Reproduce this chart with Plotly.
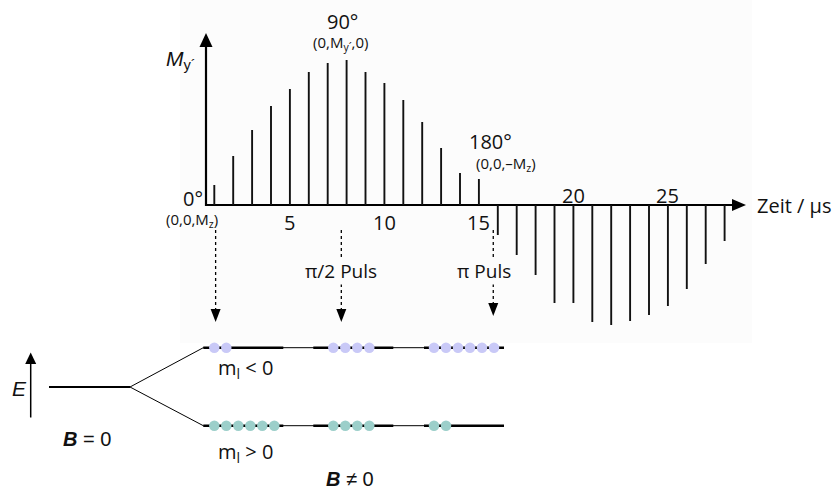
import plotly.graph_objects as go

# ---------------- data ----------------
times = list(range(1, 29))  # µs
signal = [20, 49, 75, 99, 116, 133, 142, 145, 133, 122, 105, 83, 57, 32, 26,
          -30, -50, -70, -98, -98, -117, -120, -116, -110, -101, -84, -59, -36]
tick_values = [5, 10, 15, 20, 25]
tick_side = ["below", "below", "below", "above", "above"]
pulse_times = [1.07, 7.72, 15.76]
pulse_labels = ["", "π/2 Puls", "π Puls"]
upper_counts = [2, 4, 6]   # m_l < 0
lower_counts = [6, 4, 2]   # m_l > 0

# ---------------- layout constants (pixels) ----------------
W, H = 833, 491
PX0, PXU = 195.4, 18.9      # pixel of t=0, pixels per µs
BASE_Y = 205                 # pixel of signal baseline
BG = "#fcfcfc"
FONT = "Open Sans"
ARIAL = "Liberation Sans"


def tx(t):
    return PX0 + PXU * t


fig = go.Figure()

# spikes
xs, ys = [], []
for t, v in zip(times, signal):
    xs += [t, t, None]
    ys += [0, v, None]
fig.add_trace(go.Scatter(x=xs, y=ys, mode="lines",
                         line=dict(color="#111111", width=1.9),
                         hoverinfo="skip", showlegend=False))

# energy level dots
GROUP_X0 = [214.3, 333.3, 434.0]
DOT_GAP = 12.0
UP_Y, LO_Y = 347.7, 425.7
for counts, yy, col in [(upper_counts, UP_Y, "#c9c9f7"), (lower_counts, LO_Y, "#9ccfca")]:
    dx, dy = [], []
    for g, n in enumerate(counts):
        for i in range(n):
            dx.append(GROUP_X0[g] + DOT_GAP * i)
            dy.append(yy)
    fig.add_trace(go.Scatter(x=dx, y=dy, mode="markers", xaxis="x2", yaxis="y2",
                             marker=dict(size=10.5, color=col, line=dict(width=0)),
                             hoverinfo="skip", showlegend=False))

shapes = []


def line(x0, y0, x1, y1, w=1.0, dash="solid", color="black"):
    shapes.append(dict(type="line", xref="x2", yref="y2", x0=x0, y0=y0, x1=x1, y1=y1,
                       line=dict(color=color, width=w, dash=dash), layer="below"))


def tri(path):
    shapes.append(dict(type="path", xref="x2", yref="y2", path=path,
                       fillcolor="black", line=dict(width=0)))


# faint background panel
shapes.append(dict(type="rect", xref="x2", yref="y2", x0=180, y0=0, x1=752, y1=343,
                   fillcolor=BG, line=dict(width=0), layer="below"))

# axes with arrows
line(206, BASE_Y + 1, 206, 46, w=2.2)
tri("M 199.5 47 L 206 33 L 212.5 47 Z")
line(205, BASE_Y, 733, BASE_Y, w=2.2)
tri(f"M 732 {BASE_Y-6} L 746 {BASE_Y} L 732 {BASE_Y+6} Z")

# dotted pulse arrows
ARROW_TIP = [322, 322, 316]
for t, tip in zip(pulse_times, ARROW_TIP):
    px = tx(t)
    line(px, 230, px, tip - 12, w=1.3, dash="dot")
    tri(f"M {px-5} {tip-13} L {px} {tip} L {px+5} {tip-13} Z")

# energy diagram
line(49, 387, 130, 387, w=2.2)
line(130, 387, 203.3, UP_Y, w=1)
line(130, 387, 203.3, LO_Y, w=1)
for yy in (UP_Y, LO_Y):
    line(203.3, yy, 504, yy, w=1)
    for a, b in [(203.3, 283.3), (313.3, 393.3), (424, 504)]:
        line(a, yy, b, yy, w=2.6)
# E arrow
line(30.7, 417.5, 30.7, 363, w=1.5)
tri("M 25.2 364 L 30.7 352.5 L 36.2 364 Z")

fig.update_layout(shapes=shapes)

ann = []


def text(x, y, s, size=20, font=FONT, xanchor="center", bg=None, xref="x2", yref="y2"):
    d = dict(x=x, y=y, xref=xref, yref=yref, text=s, showarrow=False,
             xanchor=xanchor, yanchor="middle",
             font=dict(family=font, size=size, color="#111111"))
    if bg:
        d.update(bgcolor=bg, borderpad=0)
    ann.append(d)


# tick labels (placed on the data axis)
for v, side in zip(tick_values, tick_side):
    text(v, -17 if side == "below" else 10, str(v), size=20, xref="x", yref="y")

text(181, 60, "<i>M</i><sub>y´</sub>", size=21, font=ARIAL)
text(193, 198, "0°", size=20)
text(192, 220, "(0,0,M<sub>z</sub>)", size=15)
text(342, 21, "90°", size=20)
text(340, 43, "(0,M<sub>y´</sub>,0)", size=15)
text(490, 141, "180°", size=20)
text(506, 164, "(0,0,–M<sub>z</sub>)", size=15)
text(755, 205, "Zeit / µs", size=20, xanchor="left")
for t, lab in zip(pulse_times, pulse_labels):
    if lab:
        text(tx(t) - (9 if lab.startswith("π Puls") else 0), 271, lab, size=19, bg=BG)
text(245, 368, "m<sub>l</sub> < 0", size=20)
text(245, 452, "m<sub>l</sub> > 0", size=20)
text(87, 439, "<b><i>B</i></b> = 0", size=20, font=ARIAL)
text(350, 479, "<b><i>B</i></b> ≠ 0", size=20, font=ARIAL)
text(19, 388, "<i>E</i>", size=21, font=ARIAL)

fig.update_layout(
    annotations=ann,
    width=W, height=H,
    margin=dict(l=0, r=0, t=0, b=0),
    paper_bgcolor="white", plot_bgcolor="rgba(0,0,0,0)",
    xaxis=dict(range=[-PX0 / PXU, (W - PX0) / PXU], domain=[0, 1], visible=False, fixedrange=True),
    yaxis=dict(range=[BASE_Y - H, BASE_Y], domain=[0, 1], visible=False, fixedrange=True),
    xaxis2=dict(range=[0, W], overlaying="x", visible=False, fixedrange=True),
    yaxis2=dict(range=[H, 0], overlaying="y", visible=False, fixedrange=True),
    showlegend=False,
)

fig.write_html("out.html")
